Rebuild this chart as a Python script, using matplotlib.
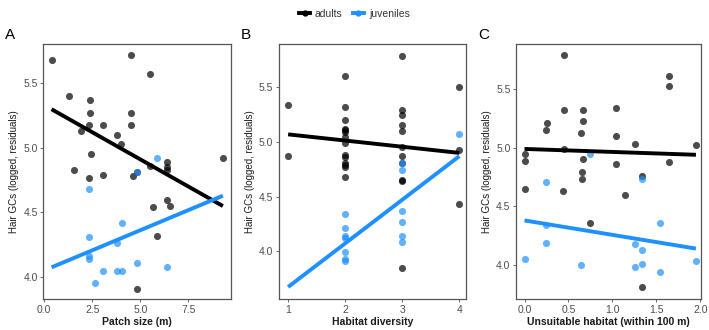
import numpy as np
import matplotlib
matplotlib.use("Agg")
from matplotlib import pyplot as plt
from matplotlib.lines import Line2D

plt.rcParams["font.family"] = ["Liberation Sans", "DejaVu Sans"]

# --- data ----------------------------------------------------

# panel A: patch size
a_adult_x = [0.38, 1.28, 1.56, 1.93, 2.38, 2.38, 2.34, 2.41, 2.34, 3.04, 3.04, 3.77, 4.01,
             4.51, 4.51, 4.51, 4.60, 4.84, 5.49, 5.49, 5.68, 5.87, 6.37, 6.37, 6.37, 6.37,
             6.56, 9.29, 4.84]
a_adult_y = [5.68, 5.40, 4.83, 5.13, 5.37, 5.27, 5.18, 4.95, 4.77, 5.18, 4.79, 5.10, 5.03,
             5.72, 5.27, 5.18, 4.78, 4.81, 5.57, 4.86, 4.54, 4.32, 4.89, 4.85, 4.83, 4.60,
             4.55, 4.92, 3.91]
a_juv_x = [2.34, 2.34, 2.34, 2.34, 2.64, 3.04, 3.77, 3.77, 4.03, 4.03, 4.84, 4.84, 5.87, 6.37]
a_juv_y = [4.68, 4.31, 4.16, 4.14, 3.95, 4.05, 4.26, 4.05, 4.05, 4.42, 4.81, 4.11, 4.92, 4.08]
a_adult_fit = ([0.38, 9.29], [5.30, 4.55])
a_juv_fit = ([0.38, 9.29], [4.075, 4.63])

# panel B: habitat diversity
b_adult_x = [1, 1] + [2] * 14 + [3] * 11 + [4] * 3
b_adult_y = [5.34, 4.87,
             5.61, 5.32, 5.20, 5.12, 5.11, 5.09, 5.05, 4.99, 4.88, 4.86, 4.81, 4.79, 4.77, 4.68,
             5.79, 5.29, 5.25, 5.16, 5.10, 4.95, 4.87, 4.81, 4.65, 4.64, 3.84,
             5.50, 4.93, 4.43]
b_juv_x = [2] * 7 + [3] * 6 + [4]
b_juv_y = [4.34, 4.21, 4.14, 4.12, 3.99, 3.93, 3.91,
           4.81, 4.74, 4.37, 4.27, 4.14, 4.08,
           5.07]
b_adult_fit = ([1, 4], [5.07, 4.90])
b_juv_fit = ([1, 4], [3.67, 4.87])

# panel C: unsuitable habitat
c_adult_x = [0, 0, 0, 0.25, 0.26, 0.45, 0.45, 0.45, 0.44, 0.66, 0.66, 0.64, 0.66, 0.65, 0.65,
             0.74, 1.04, 1.04, 1.04, 1.14, 1.26, 1.34, 1.34, 1.64, 1.64, 1.64, 1.95]
c_adult_y = [4.95, 4.89, 4.65, 5.15, 5.21, 5.79, 5.32, 4.99, 4.63, 5.32, 5.23, 5.13, 4.90, 4.79, 4.73,
             4.36, 5.34, 5.10, 4.86, 4.60, 5.03, 4.76, 3.81, 5.61, 5.53, 4.88, 5.02]
c_juv_x = [0, 0.25, 0.25, 0.25, 0.64, 0.74, 1.26, 1.26, 1.34, 1.34, 1.34, 1.54, 1.54, 1.95]
c_juv_y = [4.05, 4.71, 4.34, 4.19, 4.00, 4.95, 4.18, 3.98, 4.73, 4.13, 4.01, 4.36, 3.94, 4.03]
c_adult_fit = ([0, 1.95], [4.99, 4.94])
c_juv_fit = ([0, 1.95], [4.38, 4.14])

# --- drawing -------------------------------------------------

ADULT = "black"
JUV = "#1E90FF"
FRAME = "#555555"
TICKC = "#4d4d4d"


def draw_panel(ax, ad_x, ad_y, jv_x, jv_y, ad_fit, jv_fit, xlabel, letter):
    ax.scatter(ad_x, ad_y, s=26, color=ADULT, alpha=0.7, linewidths=0, zorder=2)
    ax.scatter(jv_x, jv_y, s=26, color=JUV, alpha=0.7, linewidths=0, zorder=2)
    ax.plot(*ad_fit, color=ADULT, lw=2.8, solid_capstyle="butt", zorder=3)
    ax.plot(*jv_fit, color=JUV, lw=2.8, solid_capstyle="butt", zorder=3)
    ax.set_xlabel(xlabel, fontsize=7.5, fontweight="bold", labelpad=2, color="#1a1a1a")
    ax.set_ylabel("Hair GCs (logged, residuals)", fontsize=7, labelpad=3, color="#1a1a1a")
    ax.set_yticks([4.0, 4.5, 5.0, 5.5])
    ax.tick_params(labelsize=7.5, colors=TICKC, length=2.5, width=0.6, pad=1.5)
    for sp in ax.spines.values():
        sp.set_color(FRAME)
        sp.set_linewidth(0.9)
    ax.text(-0.205, 1.008, letter, transform=ax.transAxes, fontsize=11, va="bottom", ha="left")


fig = plt.figure(figsize=(7.09, 3.30), dpi=100)
bottom, height = 0.094, 0.773
ax_a = fig.add_axes([0.061, bottom, 0.265, height])
ax_b = fig.add_axes([0.3935, bottom, 0.264, height])
ax_c = fig.add_axes([0.728, bottom, 0.261, height])

draw_panel(ax_a, a_adult_x, a_adult_y, a_juv_x, a_juv_y, a_adult_fit, a_juv_fit,
           "Patch size (m)", "A")
ax_a.set_xlim(-0.05, 9.72)
ax_a.set_ylim(3.83, 5.806)
ax_a.set_xticks([0, 2.5, 5, 7.5])
ax_a.set_xticklabels(["0.0", "2.5", "5.0", "7.5"])

draw_panel(ax_b, b_adult_x, b_adult_y, b_juv_x, b_juv_y, b_adult_fit, b_juv_fit,
           "Habitat diversity", "B")
ax_b.set_xlim(0.84, 4.12)
ax_b.set_ylim(3.56, 5.90)
ax_b.set_xticks([1, 2, 3, 4])

draw_panel(ax_c, c_adult_x, c_adult_y, c_juv_x, c_juv_y, c_adult_fit, c_juv_fit,
           "Unsuitable habitat (within 100 m)", "C")
ax_c.set_xlim(-0.095, 2.01)
ax_c.set_ylim(3.71, 5.886)
ax_c.set_xticks([0, 0.5, 1.0, 1.5, 2.0])
ax_c.set_xticklabels(["0.0", "0.5", "1.0", "1.5", "2.0"])

handles = [
    Line2D([0], [0], color=ADULT, lw=2.8, marker="o", markersize=3.5, label="adults"),
    Line2D([0], [0], color=JUV, lw=2.8, marker="o", markersize=3.5, label="juveniles"),
]
leg = fig.legend(handles=handles, loc="center", bbox_to_anchor=(0.5, 0.958), ncol=2, frameon=False,
                 fontsize=7.5, handlelength=1.0, handletextpad=0.5, columnspacing=1.0)
for t in leg.get_texts():
    t.set_color("#333333")

fig.savefig("out.png", dpi=100)
